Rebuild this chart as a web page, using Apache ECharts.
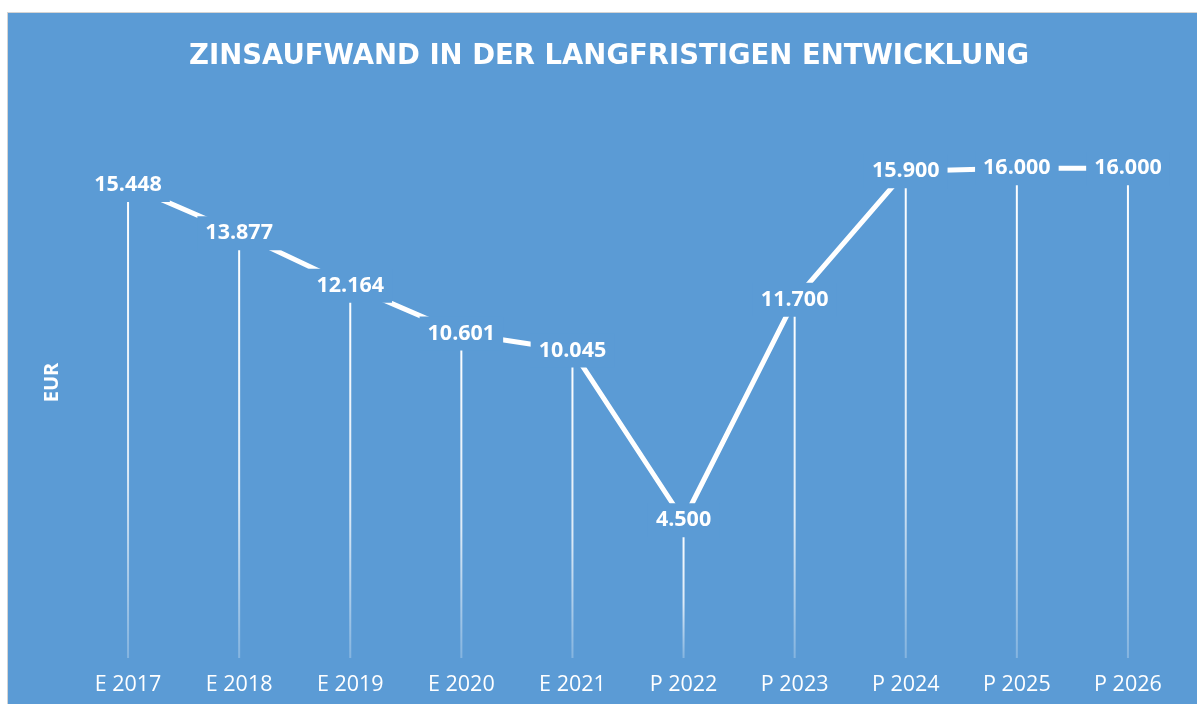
<!DOCTYPE html>
<html>
<head>
<meta charset="utf-8">
<script src="https://cdn.jsdelivr.net/npm/echarts@6/dist/echarts.min.js"></script>
<style>
	html, body { margin: 0; padding: 0; background: #ffffff; overflow: hidden; }
	#frame {
		position: absolute;
		left: 7px;
		top: 12px;
		width: 1202px;
		height: 700px;
		background: #5b9bd5;
		border: 1px solid #d4d4d4;
	}
	#zinsen { width: 1202px; height: 700px; }
</style>
</head>
<body>
<div id="frame"><div id="zinsen"></div></div>
<script>
const years = [
	'E 2017', 'E 2018', 'E 2019', 'E 2020', 'E 2021',
	'P 2022', 'P 2023', 'P 2024', 'P 2025', 'P 2026'
];
const zinsaufwand = [15448, 13877, 12164, 10601, 10045, 4500, 11700, 15900, 16000, 16000];

const blue = '#5b9bd5';

// 15448 -> "15.448"
function formatEur(v) {
	let thousands = Math.floor(v / 1000);
	let rest = String(v % 1000).padStart(3, '0');
	return thousands + '.' + rest;
}

var zinsChart = echarts.init(document.getElementById('zinsen'));

var option = {
	backgroundColor: blue,
	title: {
		text: 'ZINSAUFWAND IN DER LANGFRISTIGEN ENTWICKLUNG',
		left: 'center',
		top: 25,
		textStyle: {
			color: '#ffffff',
			fontFamily: 'DejaVu Sans',
			fontWeight: 'bold',
			fontSize: 27.5
		}
	},
	grid: {
		left: 64.5,
		right: 26.5,
		top: 94,
		bottom: 55
	},
	xAxis: {
		type: 'category',
		data: years,
		axisLine: { show: false },
		axisTick: { show: false },
		axisLabel: {
			color: '#ffffff',
			fontFamily: 'Open Sans',
			fontSize: 21.5,
			margin: 16
		}
	},
	yAxis: {
		type: 'value',
		min: 0,
		max: 18000,
		name: 'EUR',
		nameLocation: 'middle',
		nameRotate: 90,
		nameGap: 10,
		nameTextStyle: {
			color: '#ffffff',
			fontFamily: 'Open Sans',
			fontWeight: 'bold',
			fontSize: 20
		},
		axisLine: { show: false },
		axisTick: { show: false },
		axisLabel: { show: false },
		splitLine: { show: false }
	},
	series: [
		{
			// drop lines
			name: 'Lot',
			type: 'bar',
			z: 1,
			barWidth: 2,
			data: zinsaufwand,
			silent: true,
			itemStyle: {
				color: new echarts.graphic.LinearGradient(0, 0, 0, 1, [
					{ offset: 0, color: 'rgba(255,255,255,1)' },
					{ offset: 0.6, color: 'rgba(255,255,255,0.8)' },
					{ offset: 1, color: 'rgba(255,255,255,0.25)' }
				])
			}
		},
		{
			name: 'Zinsaufwand',
			type: 'line',
			z: 3,
			data: zinsaufwand,
			symbol: 'circle',
			symbolSize: 2,
			lineStyle: { color: '#ffffff', width: 5 },
			itemStyle: { color: '#ffffff' },
			label: {
				show: true,
				position: 'inside',
				formatter: (p) => formatEur(p.value),
				color: '#ffffff',
				fontFamily: 'Open Sans',
				fontWeight: 'bold',
				fontSize: 21.5,
				backgroundColor: blue,
				padding: [6, 8]
			}
		}
	]
};

zinsChart.setOption(option);
</script>
</body>
</html>
